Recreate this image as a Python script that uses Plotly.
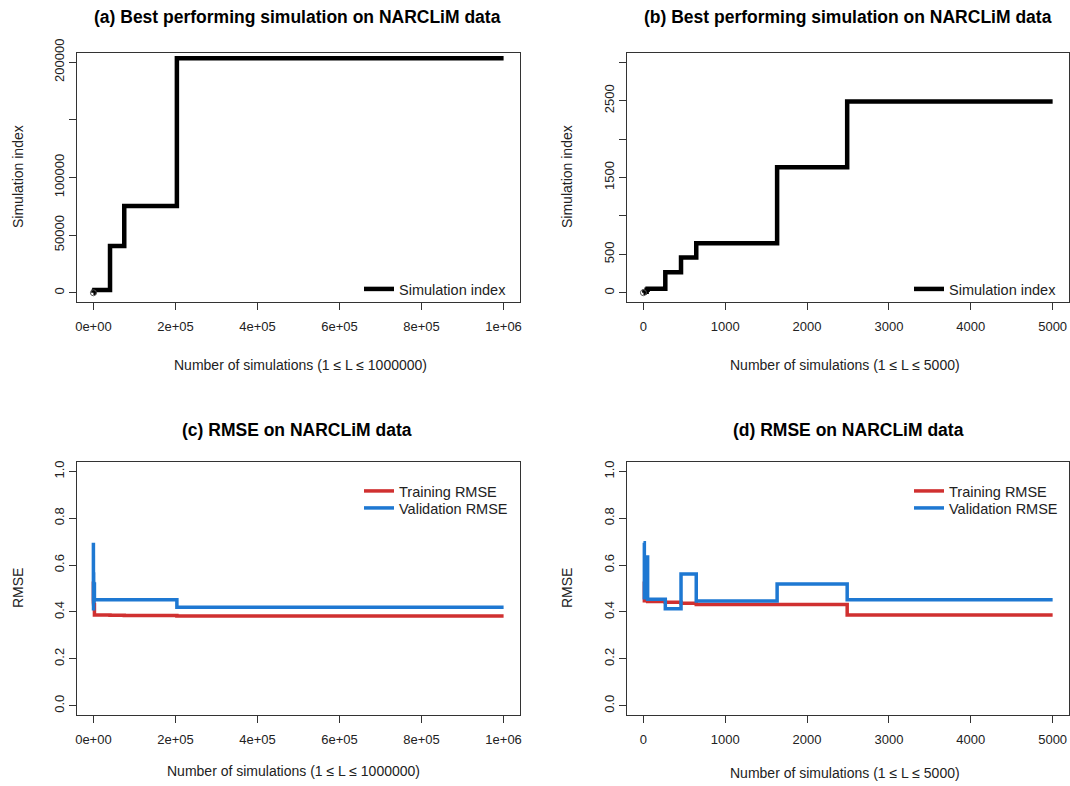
import plotly.graph_objects as go

# ---- data ----
change_L = [1, 12, 40, 52, 268, 460, 646, 1634, 2490, 40500, 75200, 203500]
best_idx = [1, 12, 40, 52, 268, 460, 646, 1634, 2490, 40500, 75200, 203500]
train_rmse = [0.530, 0.448, 0.448, 0.445, 0.441, 0.437, 0.432, 0.432, 0.387, 0.386, 0.385, 0.383]
val_rmse = [0.695, 0.460, 0.635, 0.454, 0.414, 0.562, 0.447, 0.519, 0.452, 0.452, 0.452, 0.420]
N_full = 1000000
N_short = 5000

xt_full_vals = [0, 200000, 400000, 600000, 800000, 1000000]
xt_full_text = ["0e+00", "2e+05", "4e+05", "6e+05", "8e+05", "1e+06"]
xt_short_vals = [0, 1000, 2000, 3000, 4000, 5000]
xt_short_text = ["0", "1000", "2000", "3000", "4000", "5000"]
yt_a_vals = [0, 50000, 100000, 150000, 200000]
yt_a_text = ["0", "50000", "100000", "", "200000"]
yt_b_vals = [0, 500, 1000, 1500, 2000, 2500, 3000]
yt_b_text = ["0", "500", "", "1500", "", "2500", ""]
yt_r_vals = [0, 0.2, 0.4, 0.6, 0.8, 1.0]
yt_r_text = ["0.0", "0.2", "0.4", "0.6", "0.8", "1.0"]

titles = ["(a) Best performing simulation on NARCLiM data",
          "(b) Best performing simulation on NARCLiM data",
          "(c) RMSE on NARCLiM data",
          "(d) RMSE on NARCLiM data"]
xlab_full = "Number of simulations (1 \u2264 L \u2264 1000000)"
xlab_short = "Number of simulations (1 \u2264 L \u2264 5000)"

BLACK = "#000000"
RED = "#D03030"
BLUE = "#1E78D2"
FONT = "Liberation Sans, Arial, sans-serif"
W, H = 1070, 786


def steps(xs, ys, n):
    px = [x for x in xs if x <= n]
    py = ys[:len(px)]
    return px + [n], py + [py[-1]]


fig = go.Figure()

# panel a
xa, ya = steps(change_L, best_idx, N_full)
fig.add_trace(go.Scatter(x=xa, y=ya, mode="lines", line=dict(color=BLACK, width=4.5, shape="hv"),
                         name="Simulation index", xaxis="x", yaxis="y", legend="legend"))
fig.add_trace(go.Scatter(x=xa[:1], y=ya[:1], mode="markers", showlegend=False,
                         marker=dict(symbol="circle-open", size=6, color="#555"), xaxis="x", yaxis="y"))
# panel b
xb, yb = steps(change_L, best_idx, N_short)
fig.add_trace(go.Scatter(x=xb, y=yb, mode="lines", line=dict(color=BLACK, width=4.5, shape="hv"),
                         name="Simulation index", xaxis="x2", yaxis="y2", legend="legend2"))
fig.add_trace(go.Scatter(x=xb[:1], y=yb[:1], mode="markers", showlegend=False,
                         marker=dict(symbol="circle-open", size=6, color="#555"), xaxis="x2", yaxis="y2"))
# panel c
xc, tc = steps(change_L, train_rmse, N_full)
_, vc = steps(change_L, val_rmse, N_full)
fig.add_trace(go.Scatter(x=xc, y=tc, mode="lines", line=dict(color=RED, width=3.5, shape="hv"),
                         name="Training RMSE", xaxis="x3", yaxis="y3", legend="legend3"))
fig.add_trace(go.Scatter(x=xc, y=vc, mode="lines", line=dict(color=BLUE, width=3.5, shape="hv"),
                         name="Validation RMSE", xaxis="x3", yaxis="y3", legend="legend5"))
# panel d
xd, td = steps(change_L, train_rmse, N_short)
_, vd = steps(change_L, val_rmse, N_short)
fig.add_trace(go.Scatter(x=xd, y=td, mode="lines", line=dict(color=RED, width=3.5, shape="hv"),
                         name="Training RMSE", xaxis="x4", yaxis="y4", legend="legend4"))
fig.add_trace(go.Scatter(x=xd, y=vd, mode="lines", line=dict(color=BLUE, width=3.5, shape="hv"),
                         name="Validation RMSE", xaxis="x4", yaxis="y4", legend="legend6"))

# layout geometry (pixels)
left_px = [(77, 520), (627, 1069)]
top_px = [(53, 302), (462, 715)]


def dom_x(i):
    return [left_px[i][0] / W, left_px[i][1] / W]


def dom_y(j):
    return [1 - top_px[j][1] / H, 1 - top_px[j][0] / H]


axis_common = dict(showline=True, mirror=True, linecolor="#333", linewidth=1, ticks="outside",
                   ticklen=7, tickcolor="#333", showgrid=False, zeroline=False, automargin=False,
                   tickfont=dict(family=FONT, size=13, color="#222"))

full_range = [-0.04 * N_full, 1.04 * N_full]
short_range = [-0.04 * N_short, 1.04 * N_short]

fig.update_layout(
    width=W, height=H, margin=dict(l=0, r=0, t=0, b=0, autoexpand=False),
    paper_bgcolor="white", plot_bgcolor="white",
    font=dict(family=FONT, size=13, color="#222"),
    xaxis=dict(domain=dom_x(0), anchor="y", range=full_range, tickvals=xt_full_vals,
               ticktext=xt_full_text, ticklabelstandoff=5, **axis_common),
    yaxis=dict(domain=dom_y(0), anchor="x", range=[-8000, 208000], tickvals=yt_a_vals,
               ticktext=yt_a_text, tickangle=-90, **axis_common),
    xaxis2=dict(domain=dom_x(1), anchor="y2", range=short_range, tickvals=xt_short_vals,
                ticktext=xt_short_text, ticklabelstandoff=5, **axis_common),
    yaxis2=dict(domain=dom_y(0), anchor="x2", range=[-120, 3120], tickvals=yt_b_vals,
                ticktext=yt_b_text, tickangle=-90, **axis_common),
    xaxis3=dict(domain=dom_x(0), anchor="y3", range=full_range, tickvals=xt_full_vals,
                ticktext=xt_full_text, ticklabelstandoff=5, **axis_common),
    yaxis3=dict(domain=dom_y(1), anchor="x3", range=[-0.04, 1.04], tickvals=yt_r_vals,
                ticktext=yt_r_text, tickangle=-90, **axis_common),
    xaxis4=dict(domain=dom_x(1), anchor="y4", range=short_range, tickvals=xt_short_vals,
                ticktext=xt_short_text, ticklabelstandoff=5, **axis_common),
    yaxis4=dict(domain=dom_y(1), anchor="x4", range=[-0.04, 1.04], tickvals=yt_r_vals,
                ticktext=yt_r_text, tickangle=-90, **axis_common),
)

leg_common = dict(bgcolor="rgba(0,0,0,0)", borderwidth=0, font=dict(family=FONT, size=14.5, color="#222"),
                  xanchor="left", yanchor="middle", itemwidth=30, tracegroupgap=0)
fig.update_layout(
    legend=dict(x=359 / W, y=1 - 289 / H, **leg_common),
    legend2=dict(x=909 / W, y=1 - 289 / H, **leg_common),
    legend3=dict(x=359 / W, y=1 - 491 / H, **leg_common),
    legend5=dict(x=359 / W, y=1 - 508 / H, **leg_common),
    legend4=dict(x=909 / W, y=1 - 491 / H, **leg_common),
    legend6=dict(x=909 / W, y=1 - 508 / H, **leg_common),
)

annotations = []
title_pos = [(297, 17), (848, 17), (297, 430), (848, 430)]
for t, (tx, ty) in zip(titles, title_pos):
    annotations.append(dict(text="<b>" + t + "</b>", x=tx / W, y=1 - ty / H, xref="paper", yref="paper",
                            showarrow=False, xanchor="center", yanchor="middle",
                            font=dict(family=FONT, size=17.5, color="#000")))
xlab_pos = [(xlab_full, 300, 365), (xlab_short, 845, 365), (xlab_full, 293, 771), (xlab_short, 845, 773)]
for t, tx, ty in xlab_pos:
    annotations.append(dict(text=t, x=tx / W, y=1 - ty / H, xref="paper", yref="paper", showarrow=False,
                            xanchor="center", yanchor="middle", font=dict(family=FONT, size=14, color="#222")))
ylab_pos = [("Simulation index", 18, 177), ("Simulation index", 567, 177), ("RMSE", 18, 588), ("RMSE", 567, 588)]
for t, tx, ty in ylab_pos:
    annotations.append(dict(text=t, x=tx / W, y=1 - ty / H, xref="paper", yref="paper", showarrow=False,
                            textangle=-90, xanchor="center", yanchor="middle",
                            font=dict(family=FONT, size=14, color="#222")))
fig.update_layout(annotations=annotations)

fig.write_html("out.html", config={"displayModeBar": False},
               post_script="document.body.style.margin='0';document.body.style.overflow='hidden';")
